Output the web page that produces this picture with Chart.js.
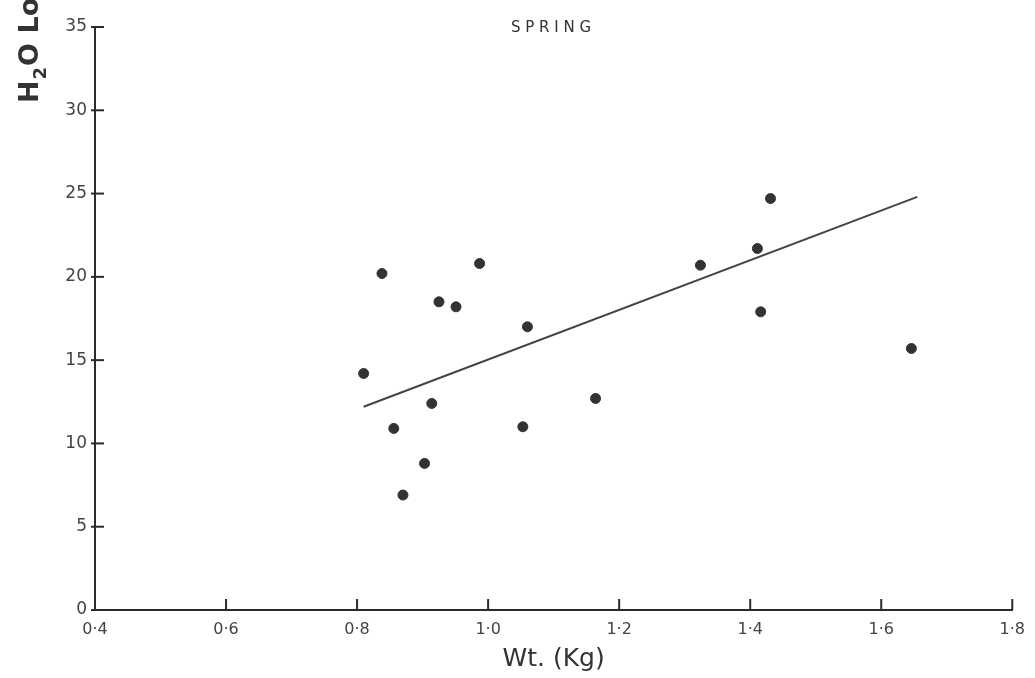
<!DOCTYPE html>
<html>
<head>
<meta charset="utf-8">
<script src="https://cdn.jsdelivr.net/npm/chart.js@4"></script>
<style>
  body { margin: 0; background: #fff; }
  .wrap { width: 1035px; height: 678px; position: relative; }
</style>
</head>
<body>
<div class="wrap"><canvas id="myChart"></canvas></div>
<script>
// Données du graphique
const poids = [0.81, 0.838, 0.856, 0.87, 0.903, 0.914, 0.925, 0.951, 0.987, 1.053, 1.06, 1.164, 1.324, 1.411, 1.416, 1.431, 1.646];
const perteEau = [14.2, 20.2, 10.9, 6.9, 8.8, 12.4, 18.5, 18.2, 20.8, 11.0, 17.0, 12.7, 20.7, 21.7, 17.9, 24.7, 15.7];
// Droite de régression
const droiteX = [0.81, 1.655];
const droiteY = [12.2, 24.8];
// Graduations
const ticksX = [0.4, 0.6, 0.8, 1.0, 1.2, 1.4, 1.6, 1.8];
const ticksY = [0, 5, 10, 15, 20, 25, 30, 35];

const police = "'DejaVu Sans', sans-serif";
const encre = "#2b2b2b";

// Plugin pour les petites graduations vers l'intérieur + titres
const decor = {
  id: "decor",
  afterDraw(chart) {
    const ctx = chart.ctx;
    const sx = chart.scales.x;
    const sy = chart.scales.y;
    const area = chart.chartArea;
    ctx.save();
    ctx.strokeStyle = encre;
    ctx.lineWidth = 2;
    ticksY.forEach((v) => {
      const y = sy.getPixelForValue(v);
      ctx.beginPath();
      ctx.moveTo(area.left - 4, y);
      ctx.lineTo(area.left + 9, y);
      ctx.stroke();
    });
    ticksX.forEach((v) => {
      const x = sx.getPixelForValue(v);
      ctx.beginPath();
      ctx.moveTo(x, area.bottom);
      ctx.lineTo(x, area.bottom - 11);
      ctx.stroke();
    });
    // Titre SPRING
    ctx.fillStyle = "#333";
    ctx.font = "15px " + police;
    ctx.textAlign = "center";
    ctx.textBaseline = "middle";
    ctx.fillText("S P R I N G", 551, 28);
    // Titre de l'axe Y (coupé en haut comme sur l'original)
    ctx.translate(38, 103);
    ctx.rotate(-Math.PI / 2);
    ctx.textAlign = "left";
    ctx.textBaseline = "alphabetic";
    ctx.font = "bold 27px " + police;
    ctx.fillStyle = "#333";
    ctx.fillText("H", 0, 0);
    let w = ctx.measureText("H").width;
    ctx.font = "bold 18px " + police;
    ctx.fillText("2", w + 1, 8);
    w += ctx.measureText("2").width + 2;
    ctx.font = "bold 27px " + police;
    ctx.fillText("O Loss", w, 0);
    ctx.restore();
  },
};

const ctx = document.getElementById("myChart");
const chart = new Chart(ctx, {
  data: {
    datasets: [
      {
        type: "scatter",
        data: poids.map((x, i) => ({ x: x, y: perteEau[i] })),
        backgroundColor: "#333",
        borderColor: "#333",
        pointRadius: 5,
        pointHoverRadius: 5,
      },
      {
        type: "line",
        data: droiteX.map((x, i) => ({ x: x, y: droiteY[i] })),
        borderColor: "#444",
        borderWidth: 2,
        pointRadius: 0,
        fill: false,
      },
    ],
  },
  options: {
    responsive: true,
    maintainAspectRatio: false,
    animation: false,
    layout: { padding: { top: 27, right: 22, left: 0, bottom: 0 } },
    plugins: {
      legend: { display: false },
      tooltip: { enabled: false },
    },
    scales: {
      x: {
        type: "linear",
        min: 0.4,
        max: 1.8,
        afterBuildTicks: (s) => { s.ticks = ticksX.map((v) => ({ value: v })); },
        afterFit: (s) => { s.height = 68; },
        grid: { display: false, drawTicks: false },
        border: { color: encre, width: 2 },
        ticks: {
          padding: 10,
          color: "#444",
          font: { size: 16, family: police },
          callback: (v) => v.toFixed(1).replace(".", "·"),
        },
        title: {
          display: true,
          text: "Wt. (Kg)",
          color: "#333",
          font: { size: 25, family: police },
          padding: { top: 0 },
        },
      },
      y: {
        min: 0,
        max: 35,
        afterBuildTicks: (s) => { s.ticks = ticksY.map((v) => ({ value: v })); },
        afterFit: (s) => { s.width = 95; },
        grid: { display: false, drawTicks: false },
        border: { color: encre, width: 2 },
        ticks: {
          padding: 8,
          color: "#444",
          font: { size: 17, family: police },
        },
      },
    },
  },
  plugins: [decor],
});
</script>
</body>
</html>
